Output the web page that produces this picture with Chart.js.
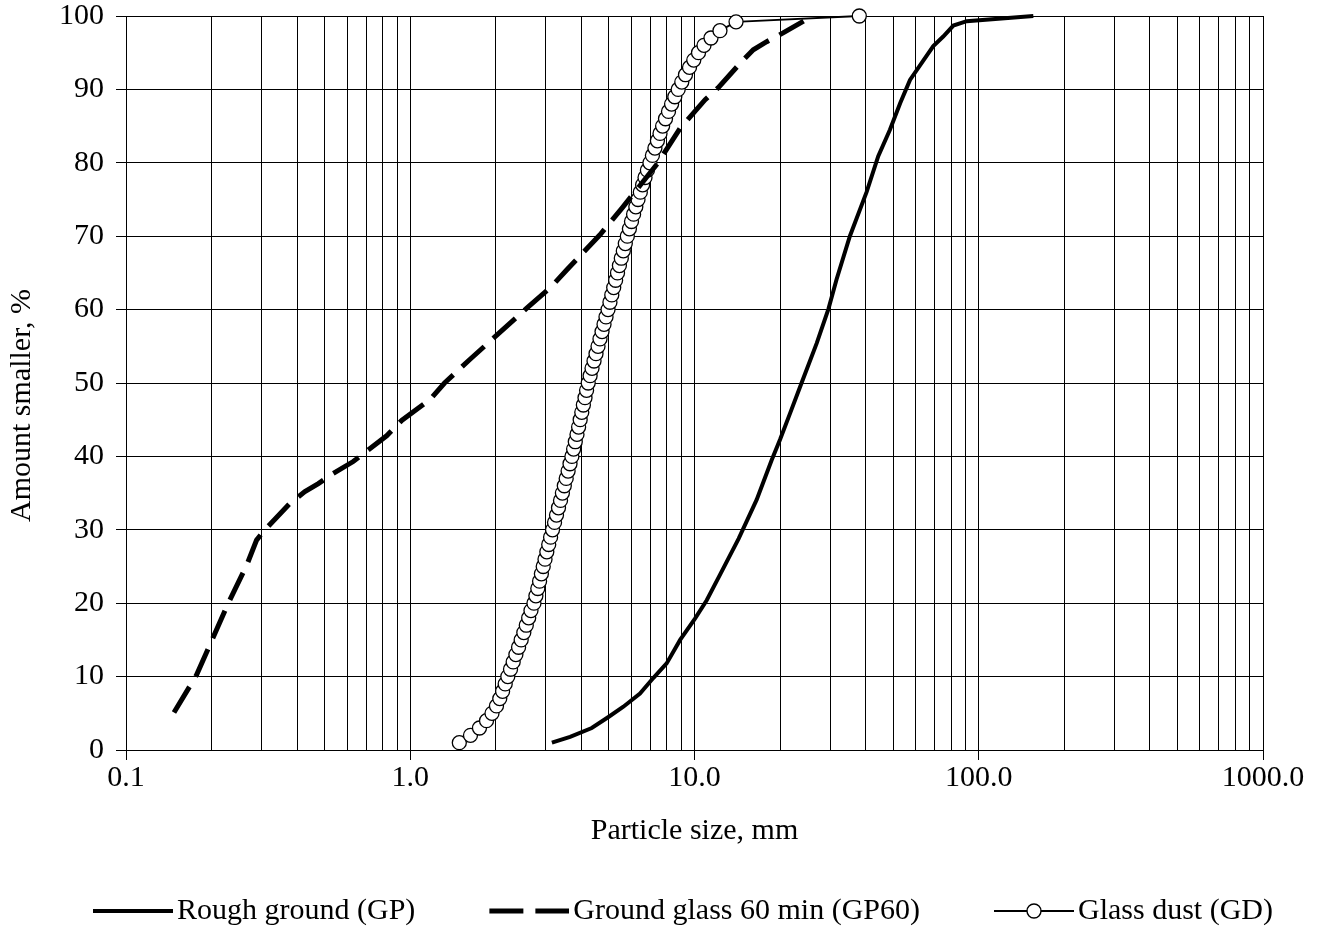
<!DOCTYPE html>
<html>
<head>
<meta charset="utf-8">
<script src="https://cdn.jsdelivr.net/npm/chart.js@4.4.1/dist/chart.umd.min.js"></script>
<style>
html,body{margin:0;padding:0;background:#fff;}
#wrap{width:1320px;height:929px;}
</style>
</head>
<body>
<div id="wrap"><canvas id="c" width="1320" height="929"></canvas></div>
<script>
// ---- data ----
const gpSize = [3.15, 3.65, 4.35, 4.98, 5.62, 6.43, 7.16, 7.98, 8.9, 10.04, 11.04, 12.3, 14.3, 16.55, 18.69, 20.0, 21.7, 23.8, 26.9, 29.6, 31.6, 35.2, 40.3, 44.3, 48.7, 52.9, 57.3, 63.0, 69.2, 75.0, 81.4, 90.7, 155.6];
const gpPass = [1.0, 1.8, 3.0, 4.5, 5.9, 7.7, 9.8, 11.8, 15.0, 17.9, 20.4, 23.9, 28.8, 34.1, 39.5, 42.3, 45.9, 50.0, 55.4, 60.1, 64.1, 70.0, 76.0, 80.9, 84.5, 88.1, 91.3, 93.6, 95.9, 97.2, 98.7, 99.3, 100];

const gp60Size = [0.1475, 0.177, 0.229, 0.266, 0.288, 0.304, 0.377, 0.426, 0.475, 0.532, 0.63, 0.826, 0.933, 1.17, 1.32, 1.62, 2.57, 3.15, 3.55, 4.65, 5.55, 7.44, 8.9, 10.9, 12.1, 14.66, 16.1, 17.95, 20.5, 24.2];
const gp60Pass = [5.1, 10.2, 20.0, 25.2, 28.6, 29.75, 33.6, 35.2, 36.3, 37.6, 39.3, 42.8, 44.9, 47.7, 50.0, 53.2, 60.2, 63.2, 65.4, 70.2, 73.8, 80.0, 84.7, 88.6, 90.2, 93.8, 95.4, 96.5, 97.7, 99.3];

const gdSize = [1.488, 1.629, 1.752, 1.855, 1.939, 2.011, 2.065, 2.113, 2.158, 2.204,
  2.253, 2.302, 2.353, 2.405, 2.456, 2.509, 2.560, 2.610, 2.659, 2.724,
  2.767, 2.810, 2.851, 2.893, 2.936, 2.979, 3.023, 3.070, 3.117, 3.166,
  3.218, 3.270, 3.323, 3.378, 3.430, 3.483, 3.537, 3.592, 3.648, 3.704,
  3.756, 3.807, 3.860, 3.911, 3.961, 4.013, 4.065, 4.119, 4.172, 4.227,
  4.293, 4.360, 4.431, 4.503, 4.577, 4.651, 4.728, 4.805, 4.883, 4.963,
  5.041, 5.117, 5.197, 5.278, 5.360, 5.443, 5.527, 5.618, 5.709, 5.803,
  5.902, 6.003, 6.106, 6.217, 6.328, 6.447, 6.568, 6.697, 6.829, 6.969,
  7.111, 7.257, 7.405, 7.562, 7.724, 7.907, 8.101, 8.307, 8.524, 8.761,
  9.022, 9.296, 9.603, 9.943, 10.33, 10.80, 11.43, 12.29, 14.00, 38.0];
const gdPass = [1, 2, 3, 4, 5, 6, 7, 8, 9, 10,
  11, 12, 13, 14, 15, 16, 17, 18, 19, 20,
  21, 22, 23, 24, 25, 26, 27, 28, 29, 30,
  31, 32, 33, 34, 35, 36, 37, 38, 39, 40,
  41, 42, 43, 44, 45, 46, 47, 48, 49, 50,
  51, 52, 53, 54, 55, 56, 57, 58, 59, 60,
  61, 62, 63, 64, 65, 66, 67, 68, 69, 70,
  71, 72, 73, 74, 75, 76, 77, 78, 79, 80,
  81, 82, 83, 84, 85, 86, 87, 88, 89, 90,
  91, 92, 93, 94, 95, 96, 97, 98, 99.2, 100];

const seriesNames = ['Rough ground (GP)', 'Ground glass 60 min (GP60)', 'Glass dust (GD)'];
const xTickValues = [0.1, 1, 10, 100, 1000];
const xTickLabels = ['0.1', '1.0', '10.0', '100.0', '1000.0'];
const yTickStep = 10;
const xTitle = 'Particle size, mm';
const yTitle = 'Amount smaller, %';

// ---- helpers ----
const FONT = "'Liberation Serif', 'Times New Roman', serif";
const pts = (xs, ys) => xs.map((x, i) => ({x: x, y: ys[i]}));
// minor log grid values 1..9 x 10^n between 0.1 and 1000
const xGridValues = [];
for (let d = 0; d < xTickValues.length - 1; d++) {
  for (let m = 1; m <= 9; m++) xGridValues.push(parseFloat((xTickValues[d] * m).toPrecision(6)));
}
xGridValues.push(xTickValues[xTickValues.length - 1]);
const isDecade = v => xTickValues.some(t => Math.abs(t - v) / t < 1e-6);

// legend sample images (sample drawn at right end, next to the text)
const PSW = 141, SEXT = 11, SAMPLE = 80;
function sampleImg(kind) {
  const cv = document.createElement('canvas');
  cv.width = PSW + 2 * SEXT; cv.height = 30;
  const g = cv.getContext('2d');
  const x0 = cv.width - SAMPLE, x1 = cv.width, y = 15;
  g.strokeStyle = '#000';
  g.lineCap = 'butt';
  if (kind === 0) { g.lineWidth = 4; g.beginPath(); g.moveTo(x0, y); g.lineTo(x1, y); g.stroke(); }
  if (kind === 1) { g.lineWidth = 5; g.setLineDash([34, 12]); g.beginPath(); g.moveTo(x0, y); g.lineTo(x1, y); g.stroke(); }
  if (kind === 2) {
    g.lineWidth = 2; g.beginPath(); g.moveTo(x0, y); g.lineTo(x1, y); g.stroke();
    g.beginPath(); g.arc((x0 + x1) / 2, y, 7, 0, Math.PI * 2);
    g.fillStyle = '#fff'; g.fill(); g.lineWidth = 1.4; g.stroke();
  }
  return cv;
}
const legendImgs = [sampleImg(0), sampleImg(1), sampleImg(2)];

const legendShift = {
  id: 'legendShift',
  afterLayout(chart) {
    const l = chart.legend;
    if (!l) return;
    l.left += 19; l.right += 19;
    l.top += 7; l.bottom += 7;
  }
};

new Chart(document.getElementById('c'), {
  type: 'line',
  data: {
    datasets: [
      {
        label: seriesNames[0], data: pts(gpSize, gpPass),
        borderColor: '#000', borderWidth: 4, pointRadius: 0, tension: 0,
        fill: false, order: 2, clip: false
      },
      {
        label: seriesNames[1], data: pts(gp60Size, gp60Pass),
        borderColor: '#000', borderWidth: 5, borderDash: [30, 12], borderCapStyle: 'butt',
        pointRadius: 0, tension: 0, fill: false, order: 0, clip: false
      },
      {
        label: seriesNames[2], data: pts(gdSize, gdPass),
        borderColor: '#000', borderWidth: 2, tension: 0, fill: false,
        pointRadius: 7, pointHoverRadius: 7, pointStyle: 'circle',
        pointBackgroundColor: '#fff', pointBorderColor: '#000', pointBorderWidth: 1.3,
        order: 1, clip: false
      }
    ]
  },
  options: {
    responsive: false,
    animation: false,
    events: [],
    layout: { padding: { top: 16, right: 57, bottom: 0, left: 0 } },
    scales: {
      x: {
        type: 'logarithmic', min: 0.1, max: 1000,
        afterBuildTicks: s => { s.ticks = xGridValues.map(v => ({value: v})); },
        afterFit: s => { s.height = 137; },
        ticks: {
          autoSkip: false, maxRotation: 0, minRotation: 0, padding: 0,
          color: '#000', font: { family: FONT, size: 30 },
          callback: v => { const i = xTickValues.findIndex(t => Math.abs(t - v) / t < 1e-6); return i >= 0 ? xTickLabels[i] : ''; }
        },
        grid: {
          color: '#000', lineWidth: 1, tickLength: 10, drawTicks: true,
          tickColor: c => (c.tick && isDecade(c.tick.value)) ? '#000' : 'rgba(0,0,0,0)'
        },
        border: { color: '#000', width: 1 },
        title: { display: true, text: xTitle, color: '#000', font: { family: FONT, size: 30 }, padding: { top: 17, bottom: 38 } }
      },
      y: {
        type: 'linear', min: 0, max: 100,
        afterFit: s => { s.width = 126; },
        ticks: { stepSize: yTickStep, padding: 12, color: '#000', font: { family: FONT, size: 30, lineHeight: 0.1 } },
        grid: { color: '#000', lineWidth: 1, tickLength: 10, tickColor: '#000' },
        border: { color: '#000', width: 1 },
        title: { display: true, text: yTitle + '      ', color: '#000', font: { family: FONT, size: 30 }, padding: { top: 4, bottom: 0 } }
      }
    },
    plugins: {
      tooltip: { enabled: false },
      legend: {
        position: 'bottom', align: 'start',
        labels: {
          usePointStyle: true, pointStyleWidth: PSW, boxHeight: 30, padding: 2,
          color: '#000', font: { family: FONT, size: 30 },
          generateLabels: () => seriesNames.map((t, i) => ({
            text: t, pointStyle: legendImgs[i], datasetIndex: i,
            fillStyle: '#000', strokeStyle: '#000', lineWidth: 0, hidden: false, fontColor: '#000'
          }))
        }
      }
    }
  },
  plugins: [legendShift]
});
</script>
</body>
</html>
